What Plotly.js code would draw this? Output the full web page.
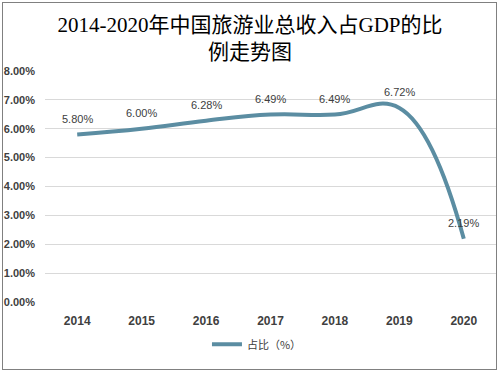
<!DOCTYPE html>
<html><head><meta charset="utf-8">
<script src="https://cdn.plot.ly/plotly-3.0.1.min.js"></script>
<style>html,body{margin:0;padding:0;background:#fff}#chart{width:500px;height:375px}</style>
</head><body><div id="chart"></div>
<script>
const years = ['2014','2015','2016','2017','2018','2019','2020'];
const shares = [5.80, 6.00, 6.28, 6.49, 6.49, 6.72, 2.19];
const labels = ['5.80%','6.00%','6.28%','6.49%','6.49%','6.72%','2.19%'];
const seriesName = '占比（%）';
const titleText = '2014-2020年中国旅游业总收入占GDP的比<br>例走势图';

const lineColor = '#5b8da2';
const trace = {
  x: years, y: shares, type: 'scatter', mode: 'lines', name: seriesName,
  line: {color: lineColor, width: 4, shape: 'spline', smoothing: 1.2},
  hoverinfo: 'skip'
};
const annotations = years.map((yr, i) => ({
  x: i, y: shares[i], xref: 'x', yref: 'y', text: labels[i], showarrow: false,
  yshift: 16, font: {family: 'Liberation Sans, Arial, sans-serif', size: 11, color: '#404040'}
}));
const layout = {
  width: 500, height: 375,
  margin: {l: 45, r: 4, t: 71, b: 73},
  paper_bgcolor: '#fff', plot_bgcolor: '#fff',
  title: {text: titleText, x: 0.5, xanchor: 'center', xref: 'container', yref: 'container', y: 0.915, yanchor: 'middle',
    font: {family: 'Liberation Serif, Noto Sans CJK SC, serif', size: 21, color: '#000'}},
  xaxis: {type: 'category', range: [-0.5, 6.5], showgrid: false, zeroline: false, showline: false,
    ticks: '', ticklabelstandoff: 10,
    tickfont: {family: 'Liberation Sans, Arial, sans-serif', size: 12, color: '#404040', weight: 'bold'}},
  yaxis: {range: [0, 8], dtick: 1, tickformat: '.2f', ticksuffix: '%', showgrid: true, gridcolor: '#d9d9d9', gridwidth: 1,
    zeroline: false, showline: false, ticks: '', ticklabelstandoff: 9,
    tickfont: {family: 'Liberation Sans, Arial, sans-serif', size: 11, color: '#404040', weight: 'bold'}},
  showlegend: true,
  legend: {orientation: 'h', x: 0.47, xanchor: 'center', y: -0.12, yanchor: 'top',
    font: {family: 'Noto Sans CJK SC, sans-serif', size: 11, color: '#404040'}},
  annotations: annotations
};
Plotly.newPlot('chart', [trace], layout, {displayModeBar: false, staticPlot: true}).then(() => {
  const svg = document.querySelector('#chart svg.main-svg');
  const ns = 'http://www.w3.org/2000/svg';
  const r = document.createElementNS(ns, 'rect');
  r.setAttribute('x', 2.5); r.setAttribute('y', 2.5); r.setAttribute('width', 494); r.setAttribute('height', 367);
  r.setAttribute('fill', 'none'); r.setAttribute('stroke', '#808080'); r.setAttribute('stroke-width', 1);
  svg.appendChild(r);
});
</script></body></html>
